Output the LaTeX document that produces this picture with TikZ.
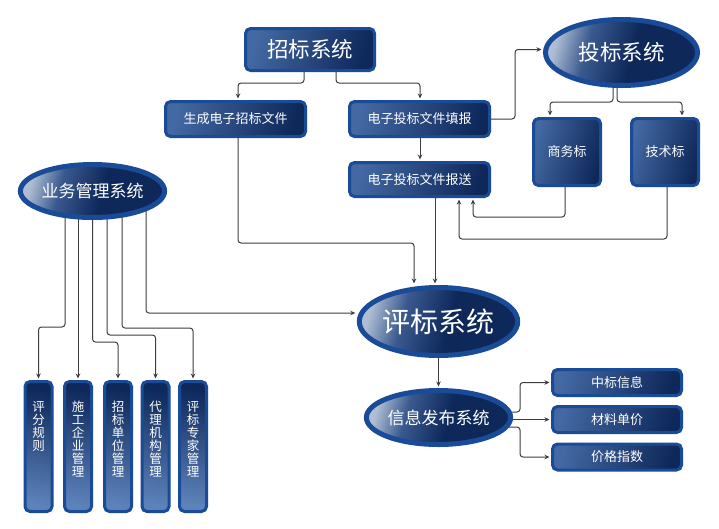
\documentclass[tikz,border=0pt]{standalone}
\usepackage{fontspec}
\newfontfamily\cjk{Noto Sans CJK SC}
\usetikzlibrary{arrows.meta,shapes.geometric,calc}
\definecolor{rim}{HTML}{1A4B98}
\definecolor{navy}{HTML}{0E285A}
\definecolor{steel}{HTML}{4368A2}
\definecolor{paleblue}{HTML}{5C82BA}
\definecolor{hilite}{HTML}{AFBED4}
\definecolor{ovmid}{HTML}{3A5A8F}
\definecolor{conncol}{HTML}{3E3E3E}
\pgfdeclarehorizontalshading{ovalshade}{100bp}{color(0bp)=(hilite); color(25bp)=(hilite); color(37bp)=(ovmid); color(54bp)=(navy); color(100bp)=(navy)}
\pgfdeclarelayer{back}
\pgfdeclarelayer{bg}
\pgfsetlayers{back,bg,main}
\begin{document}
\begin{tikzpicture}[x=1pt,y=-1pt,
  box/.style={rectangle, rounded corners=5pt, draw=rim, line width=3pt,
    left color=steel, right color=navy, shading angle=75, text=white, inner sep=0pt},
  oval/.style={ellipse, draw=rim, line width=5pt,
    shading=ovalshade, shading angle=-15, text=white, inner sep=0pt},
  conn/.style={draw=conncol, line width=1pt, rounded corners=3pt,
    -{Stealth[length=5pt,width=4.5pt]}, shorten >=1.5pt},
  big/.style={font=\cjk\fontsize{21.5}{24}\selectfont},
  mid/.style={font=\cjk\fontsize{17}{20}\selectfont},
  small/.style={font=\cjk\fontsize{13}{15}\selectfont},
  vtext/.style={font=\cjk\fontsize{12.5}{13}\selectfont, text=white, align=center, inner sep=0pt, anchor=north},
  vbox/.style={rectangle, rounded corners=5pt, draw=rim, line width=3pt,
    top color=navy, bottom color=paleblue, shading angle=-10, inner sep=0pt,
    minimum width=27pt, minimum height=130pt}
]
\useasboundingbox (0,0) rectangle (719,528);
\begin{pgfonlayer}{back}
\fill[white] (0,0) rectangle (719,528);
\end{pgfonlayer}

% nodes
\node[box, big, minimum width=129pt, minimum height=42pt] (zb) at (310,49.5) {招标系统};
\node[box, small, minimum width=140pt, minimum height=35pt] (sc) at (235.5,119) {生成电子招标文件};
\node[box, small, minimum width=140pt, minimum height=35pt] (tb) at (419.5,119) {电子投标文件填报};
\node[box, small, minimum width=140pt, minimum height=34pt] (bs) at (419.5,179.5) {电子投标文件报送};
\node[oval, big, minimum width=152pt, minimum height=66pt] (tbs) at (621.5,52.5) {投标系统};
\node[box, small, minimum width=67pt, minimum height=67pt] (sw) at (567,152) {商务标};
\node[box, small, minimum width=67pt, minimum height=67pt] (js) at (665,152) {技术标};
\node[oval, mid, minimum width=124pt, minimum height=53pt] (yw) at (92.5,191) {业务管理系统};
\node[oval, font=\cjk\fontsize{28}{30}\selectfont, minimum width=152pt, minimum height=68pt] (pb) at (438.5,321.5) {评标系统};
\node[oval, mid, minimum width=124pt, minimum height=54pt] (xx) at (438.5,417.5) {信息发布系统};
\node[box, small, minimum width=129pt, minimum height=26pt] (zbxx) at (617,382.5) {中标信息};
\node[box, small, minimum width=129pt, minimum height=26pt] (clsj) at (617,419.5) {材料单价};
\node[box, small, minimum width=129pt, minimum height=26pt] (jgzs) at (617,457) {价格指数};

\node[vbox] (v1) at (38.5,446.5) {};
\node[vbox] (v2) at (78,446.5) {};
\node[vbox] (v3) at (118,446.5) {};
\node[vbox] (v4) at (155.5,446.5) {};
\node[vbox] (v5) at (193,446.5) {};
\node[vtext] (v1t) at (38.5,401) {评\\分\\规\\则};
\node[vtext] (v2t) at (78,401) {施\\工\\企\\业\\管\\理};
\node[vtext] (v3t) at (118,401) {招\\标\\单\\位\\管\\理};
\node[vtext] (v4t) at (155.5,401) {代\\理\\机\\构\\管\\理};
\node[vtext] (v5t) at (193,401) {评\\标\\专\\家\\管\\理};

% connectors
\begin{pgfonlayer}{bg}
\draw[conn] ([xshift=-6pt]zb.south) -- ++(0,11) -| ([xshift=2.5pt]sc.north);
\draw[conn] ([xshift=26pt]zb.south) -- ++(0,11) -| ([xshift=0.5pt]tb.north);
\draw[conn] ([xshift=0.5pt]tb.south) -- ([xshift=0.5pt]bs.north);
\draw[conn] (tb.east) -- ++(24,0) |- ([yshift=3pt]tbs.west);
\draw[conn] ([xshift=-8.5pt]tbs.center) -- ++(0,49.5) -| ([xshift=-17pt]sw.north);
\draw[conn] ([xshift=-4.5pt]tbs.center) -- ++(0,49.5) -| ([xshift=17pt]js.north);
\draw[conn] ([xshift=-2pt]sw.south) -- ++(0,30) -| ([xshift=53.5pt]bs.south);
\draw[conn] ([xshift=2pt]js.south) -- ++(0,52) -| ([xshift=39.5pt]bs.south);
\draw[conn] ([xshift=2.5pt]sc.south) -- ++(0,105) -| ([xshift=-24.5pt]pb.north);
\draw[conn] ([xshift=15.5pt]bs.south) -- ++(0,87);
\draw[conn] ([xshift=-27.5pt]yw.center) -- ++(0,136) -| (v1.north);
\draw[conn] ([xshift=-14.5pt]yw.center) -- (v2.north);
\draw[conn] (yw.center) -- ++(0,151) -| (v3.north);
\draw[conn] ([xshift=14.5pt]yw.center) -- ++(0,144) -| (v4.north);
\draw[conn] ([xshift=29.5pt]yw.center) -- ++(0,137) -| (v5.north);
\draw[conn] ([xshift=53.5pt]yw.center) |- ([yshift=8.5pt]pb.west);
\draw[conn] (pb.center) -- (xx.north);
\draw[conn] ([yshift=5.5pt]xx.center) -- ++(81.5,0) |- (zbxx.west);
\draw[conn] (xx.center |- clsj.west) -- (clsj.west);
\draw[conn] ([yshift=-9.5pt]xx.center) -- ++(81.5,0) |- (jgzs.west);
\end{pgfonlayer}
\end{tikzpicture}
\end{document}
